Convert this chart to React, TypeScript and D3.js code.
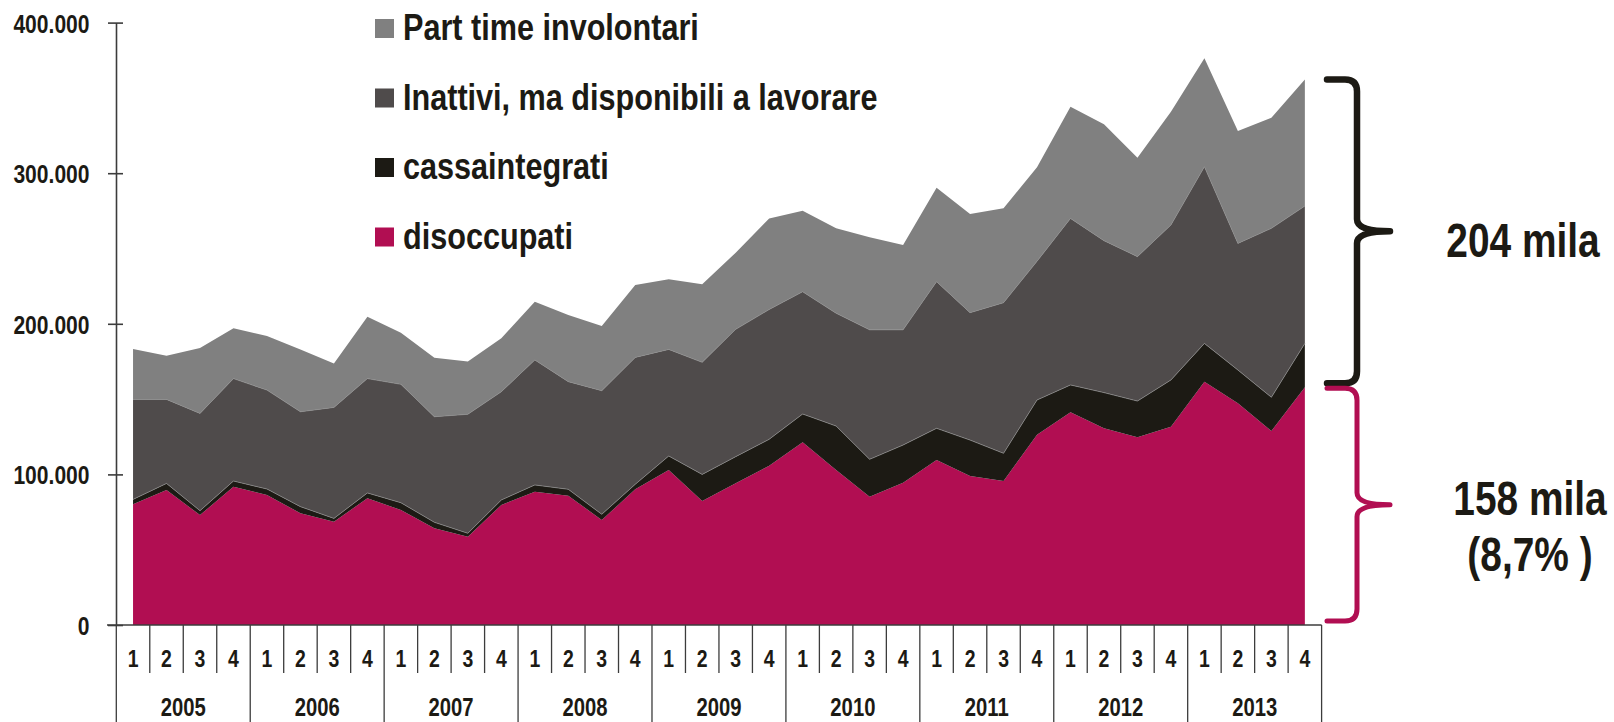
import * as d3 from "d3";
import React, { useEffect, useRef } from "react";

// quarterly values, thousands
const years = ["2005", "2006", "2007", "2008", "2009", "2010", "2011", "2012", "2013"];
const quarters = ["1", "2", "3", "4"];

const disoccupati = [
    80.1, 89.6, 73.0, 91.8, 86.3, 74.2, 68.6, 84.1, 76.4, 64.2, 58.6, 79.7,
    88.5, 85.9, 69.7, 90.1, 102.9, 82.3, 94.1, 105.8, 121.3, 102.9, 85.2, 94.5,
    109.6, 98.9, 95.6, 126.4, 141.2, 130.6, 124.6, 131.7, 161.6, 147.2, 128.8, 157.8,
];
const cassaintegrati = [
    3.3, 4.4, 2.9, 3.8, 4.0, 4.4, 2.2, 3.6, 4.8, 4.0, 2.3, 3.3,
    4.5, 4.2, 3.8, 3.3, 9.3, 17.7, 17.7, 17.5, 18.8, 29.2, 24.8, 25.0,
    21.0, 23.9, 18.4, 23.0, 18.2, 23.7, 24.1, 31.0, 25.4, 22.1, 22.4, 29.2,
];
const inattivi = [
    66.4, 55.8, 64.6, 68.0, 65.7, 63.0, 73.7, 75.9, 78.6, 70.1, 79.0, 71.9,
    83.0, 71.5, 82.1, 84.3, 70.8, 74.4, 84.5, 86.2, 81.2, 74.9, 86.0, 76.5,
    97.4, 84.6, 100.0, 92.1, 110.6, 100.9, 95.9, 102.9, 117.3, 84.1, 112.2, 91.2,
];
const partTime = [
    33.5, 29.0, 43.4, 33.4, 35.9, 41.4, 29.2, 41.1, 34.3, 39.2, 35.0, 35.5,
    38.7, 44.2, 42.9, 48.1, 46.5, 51.8, 50.9, 60.5, 53.8, 56.4, 61.4, 56.3,
    62.4, 65.5, 62.7, 62.5, 74.2, 77.3, 65.7, 75.2, 72.0, 74.6, 73.5, 84.1,
];

const seriesKeys = ["disoccupati", "cassaintegrati", "inattivi", "partTime"];
const seriesNames = ["disoccupati", "cassaintegrati", "Inattivi, ma disponibili a lavorare", "Part time involontari"];
const seriesColors = ["#b10e52", "#1c1a14", "#4f4b4b", "#808080"];
const yTicks = [0, 100, 200, 300, 400];
const upperLabel = ["204 mila"];
const lowerLabel = ["158 mila", "(8,7% )"];

// no narrow font installed: Arial-metric bold squeezed to Arial Narrow width
const FONT = "'Liberation Sans', Arial, sans-serif";
const SX = 0.81;
const INK = "#1c1a14";
const AXIS = "#3c3c3c";

const itFormat = d3.formatLocale({ decimal: ",", thousands: ".", grouping: [3], currency: ["€", ""] }).format(",");

function brace(x0, xv, xt, top, bot) {
    const mid = (top + bot) / 2;
    const r = 12;
    return `M${x0},${top} L${xv - r},${top} Q${xv},${top} ${xv},${top + r} L${xv},${mid - r} Q${xv},${mid} ${xt},${mid}` +
        ` M${xt},${mid} Q${xv},${mid} ${xv},${mid + r} L${xv},${bot - r} Q${xv},${bot} ${xv - r},${bot} L${x0},${bot}`;
}

// text placed with a translate + horizontal squeeze
function narrowText(sel, x, y, size) {
    return sel
        .attr("transform", (d, i) => `translate(${x(d, i)},${y(d, i)}) scale(${SX},1)`)
        .attr("fill", INK)
        .style("font-family", FONT)
        .style("font-weight", "bold")
        .style("font-size", `${size}px`);
}

export default function App() {
    const ref = useRef(null);

    useEffect(() => {
        const svg = d3.select(ref.current);
        svg.selectAll("*").remove();

        const rows = years.flatMap((yr, yi) =>
            quarters.map((q, qi) => {
                const i = yi * 4 + qi;
                return {
                    i, year: yr, q,
                    disoccupati: disoccupati[i],
                    cassaintegrati: cassaintegrati[i],
                    inattivi: inattivi[i],
                    partTime: partTime[i],
                };
            })
        );

        const x = d3.scaleBand().domain(rows.map((d) => d.i)).range([116.3, 1321.6]).padding(0);
        const bw = x.bandwidth();
        const cx = (i) => x(i) + bw / 2;
        const y = d3.scaleLinear().domain([0, 400]).range([625, 22.6]);

        const stacked = d3.stack().keys(seriesKeys)(rows);

        const area = d3.area()
            .x((d) => cx(d.data.i))
            .y0((d) => y(d[0]))
            .y1((d) => y(d[1]));

        const g = svg.append("g");
        g.selectAll("path.layer")
            .data(stacked)
            .join("path")
            .attr("class", "layer")
            .attr("d", area)
            .attr("fill", (d, i) => seriesColors[i]);

        // thin light edges between layers
        const edge = d3.line().x((d) => cx(d.data.i)).y((d) => y(d[1]));
        g.selectAll("path.edge")
            .data(stacked.slice(1, 3))
            .join("path")
            .attr("class", "edge")
            .attr("d", edge)
            .attr("fill", "none")
            .attr("stroke", "#8c8c8c")
            .attr("stroke-width", 0.7);

        // y axis
        const yAxis = svg.append("g")
            .attr("transform", "translate(116,0)")
            .call(d3.axisLeft(y).tickValues(yTicks).tickSize(8).tickSizeOuter(0)
                .tickFormat((d) => itFormat(d * 1000)));
        yAxis.select(".domain").attr("stroke", AXIS).attr("stroke-width", 1.6);
        yAxis.selectAll(".tick line").attr("x1", 7).attr("stroke", AXIS).attr("stroke-width", 1.6);
        yAxis.selectAll(".tick text")
            .attr("x", null)
            .attr("dy", null)
            .call(narrowText, () => -26.5, () => 9.5, 26);

        // x axis: baseline, quarter and year separators
        const xa = svg.append("g");
        const x0 = x.range()[0];
        xa.append("line")
            .attr("x1", 107).attr("x2", x.range()[1])
            .attr("y1", y(0)).attr("y2", y(0))
            .attr("stroke", AXIS).attr("stroke-width", 1.6);
        xa.selectAll("line.sep")
            .data(d3.range(rows.length + 1))
            .join("line")
            .attr("class", "sep")
            .attr("x1", (k) => x0 + k * bw)
            .attr("x2", (k) => x0 + k * bw)
            .attr("y1", y(0))
            .attr("y2", (k) => (k % 4 === 0 ? 722 : 673))
            .attr("stroke", AXIS)
            .attr("stroke-width", 1.3);
        xa.selectAll("text.q")
            .data(rows)
            .join("text")
            .attr("class", "q")
            .attr("text-anchor", "middle")
            .call(narrowText, (d) => cx(d.i), () => 667, 24)
            .text((d) => d.q);
        xa.selectAll("text.yr")
            .data(years)
            .join("text")
            .attr("class", "yr")
            .attr("text-anchor", "middle")
            .call(narrowText, (d, yi) => x0 + (yi * 4 + 2) * bw, () => 716, 25)
            .text((d) => d);

        // legend, top series first
        const legend = svg.append("g").attr("transform", "translate(375,0)");
        const order = [3, 2, 1, 0];
        legend.selectAll("rect")
            .data(order)
            .join("rect")
            .attr("x", 0)
            .attr("y", (d, k) => 19 + k * 69.5)
            .attr("width", 19)
            .attr("height", 19)
            .attr("fill", (d) => seriesColors[d]);
        legend.selectAll("text")
            .data(order)
            .join("text")
            .call(narrowText, () => 28, (d, k) => 40 + k * 69.5, 37.8)
            .text((d) => seriesNames[d]);

        // braces on the last quarter
        const last = stacked[0].length - 1;
        const yTop = y(stacked[3][last][1]);
        const yMid = y(stacked[0][last][1]);
        const yBot = y(0);
        const ann = svg.append("g");
        ann.append("path")
            .attr("d", brace(1327, 1357, 1390, yTop, yMid - 4))
            .attr("fill", "none")
            .attr("stroke", INK)
            .attr("stroke-width", 6.5)
            .attr("stroke-linecap", "round")
            .attr("stroke-linejoin", "round");
        ann.append("path")
            .attr("d", brace(1327, 1357, 1390, yMid + 1, yBot - 4))
            .attr("fill", "none")
            .attr("stroke", seriesColors[0])
            .attr("stroke-width", 5)
            .attr("stroke-linecap", "round")
            .attr("stroke-linejoin", "round");

        ann.selectAll("text.up")
            .data(upperLabel)
            .join("text")
            .attr("class", "up")
            .attr("text-anchor", "middle")
            .call(narrowText, () => 1523, () => 257, 48)
            .text((d) => d);
        ann.selectAll("text.low")
            .data(lowerLabel)
            .join("text")
            .attr("class", "low")
            .attr("text-anchor", "middle")
            .call(narrowText, () => 1530, (d, k) => 515 + k * 56, 48)
            .text((d) => d);
    }, []);

    return (
        <svg
            ref={ref}
            width={1614}
            height={722}
            style={{ position: "absolute", left: 0, top: 0, display: "block", background: "#fff" }}
        />
    );
}
